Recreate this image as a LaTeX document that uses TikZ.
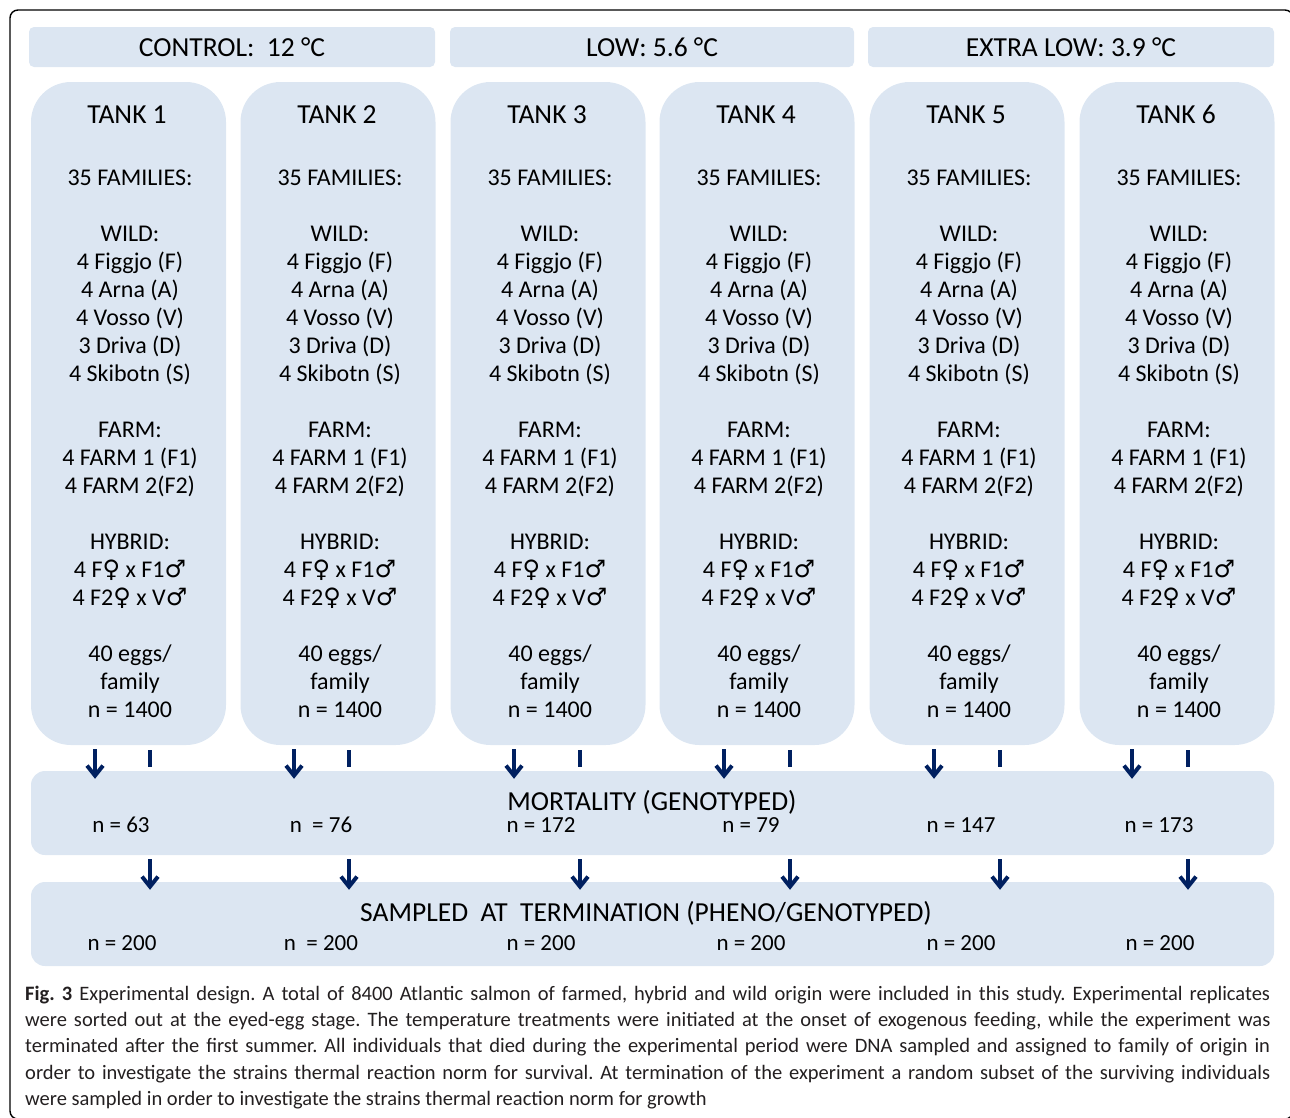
\documentclass[tikz,border=0pt]{standalone}
\usepackage{fontspec}
\setmainfont{Carlito}
\newfontfamily\symfont{DejaVu Sans}
\usepackage{tikz}
\usetikzlibrary{positioning, calc, arrows.meta}

\definecolor{boxblue}{RGB}{220,230,242}
\definecolor{arrownavy}{RGB}{0,32,96}
\definecolor{captiongray}{RGB}{35,31,32}

\newcommand{\tankbody}{35 FAMILIES:\\[28pt]
WILD:\\ 4 Figgjo (F)\\ 4 Arna (A)\\ 4 Vosso (V)\\ 3 Driva (D)\\ 4 Skibotn (S)\\[28pt]
FARM:\\ 4 FARM 1 (F1)\\ 4 FARM 2(F2)\\[28pt]
HYBRID:\\ 4 F{\symfont ♀} x F1{\symfont ♂}\\ 4 F2{\symfont ♀} x V{\symfont ♂}\\[28pt]
40 eggs/\\ family\\ n = 1400}

\tikzset{
  headbox/.style={fill=boxblue, rounded corners=5pt, minimum height=40pt, inner sep=0pt, font=\fontsize{27.5}{30}\selectfont},
  tankbox/.style={fill=boxblue, rounded corners=40pt, minimum width=195pt, minimum height=663pt, inner sep=0pt},
  tanktitle/.style={anchor=base, inner sep=0pt, font=\fontsize{27.5}{30}\selectfont},
  tanktext/.style={anchor=north, align=center, inner sep=0pt, font=\fontsize{24}{28}\selectfont},
  stagebox/.style={fill=boxblue, rounded corners=14pt, minimum width=1243pt, minimum height=84pt, inner sep=0pt},
  stagetitle/.style={anchor=base, inner sep=0pt, font=\fontsize{27.5}{30}\selectfont},
  counttext/.style={anchor=base, inner sep=0pt, font=\fontsize{23}{28}\selectfont},
  flowarrow/.style={draw=arrownavy, line width=4pt, -{Straight Barb[length=10pt,width=16pt]}},
  flowbar/.style={draw=arrownavy, line width=4pt},
}

\begin{document}
\begin{tikzpicture}[x=1pt,y=-1pt]
		\useasboundingbox (0,0) rectangle (1290,1117);
		\clip (0,0) rectangle (1290,1117);

		%Shape: Frame
		\draw [line width=1.4pt, rounded corners=8pt] (10,10) rectangle (1293,1119) ;

		%Shape: Rectangle [temperatures]
		\node [headbox, minimum width=406pt] (control) at (232,47) {CONTROL:\ \ 12 °C};
		\node [headbox, minimum width=404pt] (low) at (652,47) {LOW: 5.6 °C};
		\node [headbox, minimum width=406pt] (xlow) at (1071,47) {EXTRA LOW: 3.9 °C};

		%Shape: Rectangle [tanks]
		\node [tankbox] (tank1) at (128.5,413.5) {};
		\node [tankbox] (tank2) at (338,413.5) {};
		\node [tankbox] (tank3) at (548,413.5) {};
		\node [tankbox] (tank4) at (757,413.5) {};
		\node [tankbox] (tank5) at (967,413.5) {};
		\node [tankbox] (tank6) at (1177,413.5) {};

		% Text Node
		\node [tanktitle] (title1) at (127,123) {TANK 1};
		\node [tanktitle] (title2) at (337,123) {TANK 2};
		\node [tanktitle] (title3) at (547,123) {TANK 3};
		\node [tanktitle] (title4) at (756,123) {TANK 4};
		\node [tanktitle] (title5) at (966,123) {TANK 5};
		\node [tanktitle] (title6) at (1176,123) {TANK 6};

		% Text Node
		\node [tanktext] (body1) at (130,170) {\tankbody};
		\node [tanktext] (body2) at (340,170) {\tankbody};
		\node [tanktext] (body3) at (550,170) {\tankbody};
		\node [tanktext] (body4) at (759,170) {\tankbody};
		\node [tanktext] (body5) at (969,170) {\tankbody};
		\node [tanktext] (body6) at (1179,170) {\tankbody};

		%Shape: Rectangle [stages]
		\node [stagebox] (mort) at (652.5,813) {};
		\node [stagebox] (samp) at (652.5,924) {};

		% Text Node
		\node [stagetitle] (morttitle) at (652,810) {MORTALITY (GENOTYPED)};
		\node [counttext] (mort1) at (121,832) {n = 63};
		\node [counttext] (mort2) at (321,832) {n\ \ = 76};
		\node [counttext] (mort3) at (541,832) {n = 172};
		\node [counttext] (mort4) at (751,832) {n = 79};
		\node [counttext] (mort5) at (961,832) {n = 147};
		\node [counttext] (mort6) at (1159,832) {n = 173};

		% Text Node
		\node [stagetitle] (samptitle) at (646,921) {SAMPLED\ \ AT\ \ TERMINATION (PHENO/GENOTYPED)};
		\node [counttext] (samp1) at (122,950) {n = 200};
		\node [counttext] (samp2) at (321,950) {n\ \ = 200};
		\node [counttext] (samp3) at (541,950) {n = 200};
		\node [counttext] (samp4) at (751,950) {n = 200};
		\node [counttext] (samp5) at (961,950) {n = 200};
		\node [counttext] (samp6) at (1160,950) {n = 200};

		%Straight Lines [tanks to mortality]
		\draw [flowarrow] ([yshift=-4pt]tank1.south -| 95,0) -- ([yshift=-8pt]mort.north -| 95,0) ;
		\draw [flowbar] ([yshift=-5pt]tank1.south -| 150,0) -- ([yshift=4pt]mort.north -| 150,0) ;
		\draw [flowarrow] ([yshift=-4pt]tank2.south -| 294,0) -- ([yshift=-8pt]mort.north -| 294,0) ;
		\draw [flowbar] ([yshift=-5pt]tank2.south -| 349,0) -- ([yshift=4pt]mort.north -| 349,0) ;
		\draw [flowarrow] ([yshift=-4pt]tank3.south -| 514,0) -- ([yshift=-8pt]mort.north -| 514,0) ;
		\draw [flowbar] ([yshift=-5pt]tank3.south -| 580,0) -- ([yshift=4pt]mort.north -| 580,0) ;
		\draw [flowarrow] ([yshift=-4pt]tank4.south -| 724,0) -- ([yshift=-8pt]mort.north -| 724,0) ;
		\draw [flowbar] ([yshift=-5pt]tank4.south -| 790,0) -- ([yshift=4pt]mort.north -| 790,0) ;
		\draw [flowarrow] ([yshift=-4pt]tank5.south -| 934,0) -- ([yshift=-8pt]mort.north -| 934,0) ;
		\draw [flowbar] ([yshift=-5pt]tank5.south -| 1000,0) -- ([yshift=4pt]mort.north -| 1000,0) ;
		\draw [flowarrow] ([yshift=-4pt]tank6.south -| 1132,0) -- ([yshift=-8pt]mort.north -| 1132,0) ;
		\draw [flowbar] ([yshift=-5pt]tank6.south -| 1188,0) -- ([yshift=4pt]mort.north -| 1188,0) ;

		%Straight Lines [mortality to sampling]
		\draw [flowarrow] ([yshift=-4pt]mort.south -| 150,0) -- ([yshift=-8pt]samp.north -| 150,0) ;
		\draw [flowarrow] ([yshift=-4pt]mort.south -| 349,0) -- ([yshift=-8pt]samp.north -| 349,0) ;
		\draw [flowarrow] ([yshift=-4pt]mort.south -| 580,0) -- ([yshift=-8pt]samp.north -| 580,0) ;
		\draw [flowarrow] ([yshift=-4pt]mort.south -| 790,0) -- ([yshift=-8pt]samp.north -| 790,0) ;
		\draw [flowarrow] ([yshift=-4pt]mort.south -| 1000,0) -- ([yshift=-8pt]samp.north -| 1000,0) ;
		\draw [flowarrow] ([yshift=-4pt]mort.south -| 1188,0) -- ([yshift=-8pt]samp.north -| 1188,0) ;

		% Text Node [caption]
		\node [anchor=north west, inner sep=0pt, text width=1245pt, align=justify, text=captiongray, font=\fontsize{20.5}{26.3}\selectfont] (caption) at (25,985.5) {\frenchspacing\hyphenpenalty=10000 \textbf{Fig.\ 3} Experimental design. A total of 8400 Atlantic salmon of farmed, hybrid and wild origin were included in this study. Experimental replicates\linebreak were sorted out at the eyed-egg stage. The temperature treatments were initiated at the onset of exogenous feeding, while the experiment was\linebreak terminated after the first summer. All individuals that died during the experimental period were DNA sampled and assigned to family of origin in\linebreak order to investigate the strains thermal reaction norm for survival. At termination of the experiment a random subset of the surviving individuals\linebreak were sampled in order to investigate the strains thermal reaction norm for growth};

	\end{tikzpicture}
\end{document}
